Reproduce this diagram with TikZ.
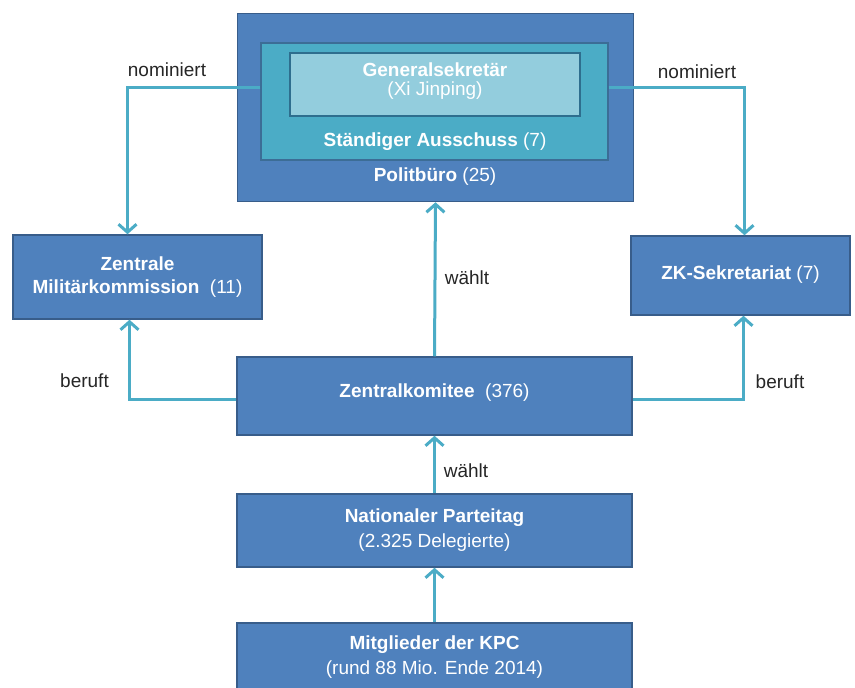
\documentclass[tikz,border=0pt]{standalone}
\usepackage{fontspec}
\setmainfont{Liberation Sans}
\usetikzlibrary{arrows.meta,calc}
\definecolor{boxblue}{HTML}{4F81BD}
\definecolor{boxedge}{HTML}{385D8A}
\definecolor{teal}{HTML}{4BACC6}
\definecolor{lightteal}{HTML}{93CDDD}
\definecolor{gsedge}{HTML}{2E6E8E}
\definecolor{arrowc}{HTML}{4BACC6}
\begin{document}
\begin{tikzpicture}[x=1pt,y=-1pt,
  box/.style={draw=boxedge,line width=1.5pt,fill=boxblue,inner sep=0pt},
  satbox/.style={draw=boxedge!80!teal,line width=1.2pt,fill=teal,inner sep=0pt},
  gsbox/.style={draw=gsedge,line width=1.5pt,fill=lightteal,inner sep=0pt},
  txt/.style={text=white,font=\fontsize{19}{24}\selectfont,align=center,inner sep=0pt},
  lbl/.style={text=black!85,font=\fontsize{19}{22}\selectfont,inner sep=0pt},
  conn/.style={draw=arrowc,line width=3pt,-{Straight Barb[length=8pt,width=18pt,line width=3pt]}},
]
\useasboundingbox[fill=white] (0,0) rectangle (855,688);
% boxes
\node[box,minimum width=396pt,minimum height=188pt] (pb) at (435.5,107.5) {};
\node[satbox,minimum width=347pt,minimum height=117pt] (sa) at (434.5,101.5) {};
\node[gsbox,minimum width=290pt,minimum height=63pt] (gs) at (435,84.5) {};
\node[box,minimum width=249pt,minimum height=84pt] (zmk) at (137.5,277) {};
\node[box,minimum width=219pt,minimum height=79pt] (zks) at (740.5,275.5) {};
\node[box,minimum width=395pt,minimum height=78pt] (zk) at (434.5,396) {};
\node[box,minimum width=395pt,minimum height=73pt] (npt) at (434.5,530.5) {};
\node[box,minimum width=395pt,minimum height=72pt] (mit) at (434.5,659) {};
% texts
\node[txt,font=\fontsize{19}{19.5}\selectfont] (tgs) at (435,81) {\textbf{Generalsekretär}\\(Xi Jinping)};
\node[txt] (tsa) at (435,142) {\textbf{Ständiger Ausschuss} (7)};
\node[txt] (tpb) at (435,177) {\textbf{Politbüro} (25)};
\node[txt,font=\fontsize{19}{23}\selectfont] (tzmk) at (137.5,277) {\textbf{Zentrale}\\\textbf{Militärkommission}\ \ (11)};
\node[txt] (tzks) at (740.5,275) {\textbf{ZK-Sekretariat} (7)};
\node[txt] (tzk) at (434.5,393) {\textbf{Zentralkomitee}\ \ (376)};
\node[txt,font=\fontsize{19}{25}\selectfont] (tnpt) at (434.5,530.5) {\textbf{Nationaler Parteitag}\\(2.325 Delegierte)};
\node[txt,font=\fontsize{19}{25}\selectfont] (tmit) at (434.5,657.5) {\textbf{Mitglieder der KPC}\\(rund 88 Mio. Ende 2014)};
% connectors
\draw[conn] ([yshift=-3pt]sa.west |- gs.center) -| ([xshift=-10pt]zmk.north);
\draw[conn] ([yshift=-3pt]sa.east |- gs.center) -| ([xshift=4pt]zks.north);
\draw[conn] (zk.north) -- (pb.south);
\draw[conn] ([yshift=-3pt]zk.west) -| ([xshift=-8pt]zmk.south);
\draw[conn] ([yshift=-3pt]zk.east) -| ([xshift=3pt]zks.south);
\draw[conn] (npt.north) -- (zk.south);
\draw[conn] (mit.north) -- (npt.south);
% labels
\node[lbl] (l1) at (167,70) {nominiert};
\node[lbl] (l2) at (697,72) {nominiert};
\node[lbl] (l3) at (467,278) {wählt};
\node[lbl] (l4) at (466,471) {wählt};
\node[lbl] (l5) at (84.5,381) {beruft};
\node[lbl] (l6) at (780,382) {beruft};
\end{tikzpicture}
\end{document}
